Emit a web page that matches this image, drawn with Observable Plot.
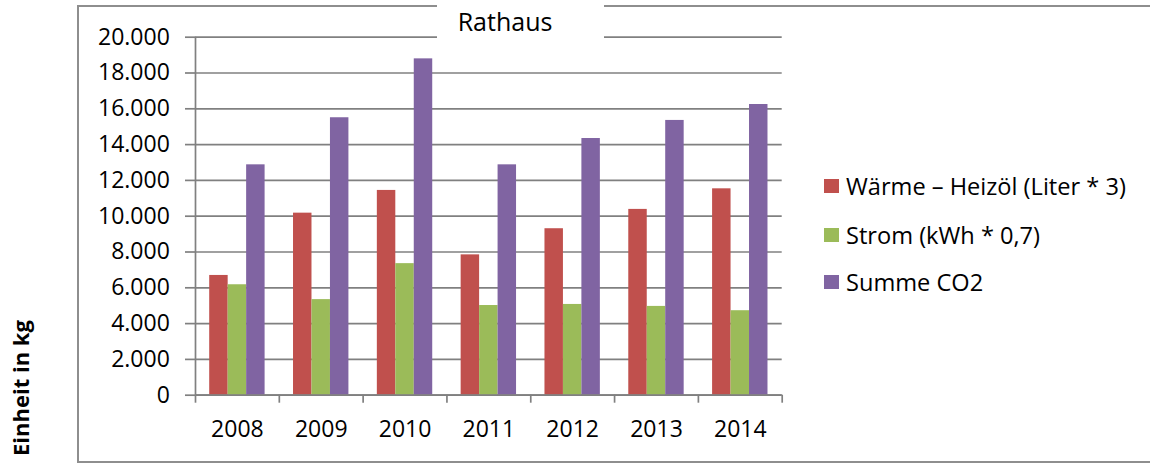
<!DOCTYPE html>
<html>
<head>
<meta charset="utf-8">
<script src="https://cdn.jsdelivr.net/npm/d3@7"></script>
<script src="https://cdn.jsdelivr.net/npm/@observablehq/plot@0.6"></script>
<style>
html, body { margin: 0; padding: 0; background: #fff; }
body { width: 1150px; height: 468px; position: relative; overflow: hidden; font-family: "Open Sans", sans-serif; color: #000; }
#frame { position: absolute; left: 77px; top: 5px; width: 1200px; height: 454px; border: 2px solid #8e8e8e; }
#chart { position: absolute; left: 0; top: 0; }
#title { position: absolute; left: 437px; top: 0; width: 167px; height: 41px; background: #fff; box-sizing: border-box; padding-left: 20.7px; padding-top: 5px; font-size: 25px; line-height: 32px; white-space: nowrap; }
#ylabel { position: absolute; left: -79.8px; top: 372.5px; width: 200px; height: 30px; line-height: 30px; text-align: center; font-size: 22px; font-weight: bold; transform: rotate(-90deg); transform-origin: 50% 50%; white-space: nowrap; }
.lrow { position: absolute; left: 824px; height: 24px; display: flex; align-items: center; font-size: 23.6px; line-height: 24px; white-space: nowrap; }
.lsw { width: 15px; height: 14px; margin-right: 7px; flex: none; }
</style>
</head>
<body>
<div id="frame"></div>
<div id="chart"></div>
<div id="ylabel"></div>
<div id="title"></div>
<div id="legend"></div>
<script>
// ---- data ----
const chartTitle = "Rathaus";
const yAxisTitle = "Einheit in kg";
const years = [2008, 2009, 2010, 2011, 2012, 2013, 2014];
const seriesNames = ["Wärme – Heizöl (Liter * 3)", "Strom (kWh * 0,7)", "Summe CO2"];
const waerme = [6690, 10170, 11440, 7840, 9300, 10380, 11530];
const strom  = [6170, 5340, 7350, 5010, 5070, 4960, 4720];
const summe  = [12870, 15500, 18790, 12870, 14340, 15350, 16240];
const yTicks = [0, 2000, 4000, 6000, 8000, 10000, 12000, 14000, 16000, 18000, 20000];
const colors = ["#C0504D", "#9BBB59", "#8064A2"];

// ---- build ----
const seriesValues = [waerme, strom, summe];
const rows = years.flatMap((yr, j) => seriesValues.map((arr, i) => ({year: yr, i, series: seriesNames[i], value: arr[j]})));
const boundaries = years.map(y => y - 0.5).concat([years[years.length - 1] + 0.5]);
const groupHalf = 0.3305, barW = 0.2203;
const fmt = d3.formatLocale({decimal: ",", thousands: ".", grouping: [3], currency: ["", " €"]}).format(",");
const gray = "#808080";

const plot = Plot.plot({
  width: 1150,
  height: 468,
  marginLeft: 195,
  marginRight: 368.3,
  marginTop: 36.7,
  marginBottom: 73.3,
  style: {fontFamily: "'Open Sans', sans-serif", fontSize: "23px", background: "transparent", color: "#000", overflow: "visible"},
  x: {domain: [boundaries[0], boundaries[boundaries.length - 1]]},
  y: {domain: [0, 20000]},
  color: {domain: seriesNames, range: colors},
  marks: [
    Plot.gridY(yTicks, {stroke: gray, strokeOpacity: 1, strokeWidth: 1.7}),
    Plot.rect(rows, {
      x1: d => d.year - groupHalf + d.i * barW,
      x2: d => d.year - groupHalf + (d.i + 1) * barW,
      y1: () => 0,
      y2: "value",
      fill: "series"
    }),
    Plot.ruleX([boundaries[0]], {stroke: gray, strokeWidth: 1.7}),
    Plot.ruleY([0], {stroke: gray, strokeWidth: 1.7}),
    Plot.axisY(yTicks, {tickSize: 10, tickPadding: 15.7, tickFormat: fmt, stroke: gray, strokeWidth: 1.7, fill: "#000", label: null}),
    Plot.axisX(boundaries, {tickSize: 8, tickFormat: () => "", stroke: gray, strokeWidth: 1.7, label: null}),
    Plot.axisX(years, {tickSize: 0, tickPadding: 25, tickFormat: d => String(d), fill: "#000", label: null})
  ]
});
document.getElementById("chart").appendChild(plot);

document.getElementById("title").textContent = chartTitle;
document.getElementById("ylabel").textContent = yAxisTitle;

const legendTops = [173.5, 222.5, 270.2];
const legend = document.getElementById("legend");
seriesNames.forEach((name, i) => {
  const row = document.createElement("div");
  row.className = "lrow";
  row.style.top = legendTops[i] + "px";
  const sw = document.createElement("div");
  sw.className = "lsw";
  sw.style.background = colors[i];
  const tx = document.createElement("span");
  tx.textContent = name;
  row.appendChild(sw);
  row.appendChild(tx);
  legend.appendChild(row);
});
</script>
</body>
</html>
